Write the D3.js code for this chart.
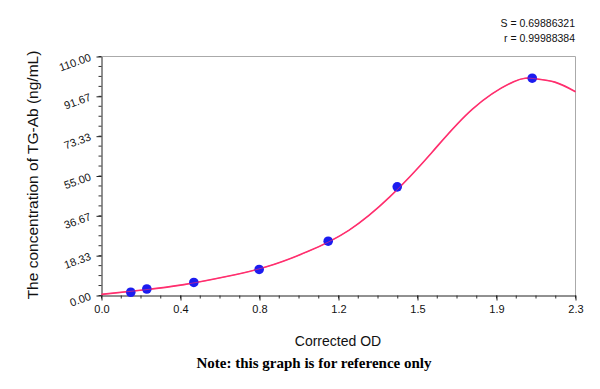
<!DOCTYPE html>
<html>
<head>
<meta charset="utf-8">
<script src="https://cdn.jsdelivr.net/npm/d3@7"></script>
<style>
  body { margin: 0; background: #fff; }
  svg { font-family: "Liberation Sans", Arial, sans-serif; }
</style>
</head>
<body>
<svg id="chart" width="600" height="389"></svg>
<script>
// standard points (corrected OD, concentration)
const odValues = [0.142, 0.22, 0.448, 0.765, 1.10, 1.435, 2.09];
const concValues = [1.5, 3, 6, 12, 25, 50, 100];

// fitted curve
const curveOd = [0, 0.2, 0.4, 0.6, 0.8, 1.0, 1.2, 1.4, 1.6, 1.8, 2.0, 2.1, 2.2, 2.3];
const curveConc = [0.5, 2.5, 5.0, 8.6, 13.2, 20.2, 30.0, 45.5, 65.5, 85.8, 98.4, 99.8, 98.2, 93.8];

const xTicks = [0, 2.3 / 6, 4.6 / 6, 1.15, 9.2 / 6, 11.5 / 6, 2.3];
const yTicks = [0, 18.33, 36.67, 55, 73.33, 91.67, 110];

const stats = ["S = 0.69886321", "r = 0.99988384"];

const plotLeft = 101.5, plotRight = 575.5, plotTop = 56.5, plotBottom = 295.5;

const svg = d3.select("#chart");

const x = d3.scaleLinear().domain([0, 2.3]).range([plotLeft, plotRight]);
const y = d3.scaleLinear().domain([0, 110]).range([plotBottom, plotTop]);

// frame (top and right in gray)
svg.append("path")
    .attr("d", `M${plotLeft},${plotTop}H${plotRight}V${plotBottom}`)
    .attr("fill", "none")
    .attr("stroke", "#aaa")
    .attr("stroke-width", 1);

// minor ticks
const xMinor = d3.range(0, 25).map(i => i * 2.3 / 24);
svg.append("g").selectAll("line")
    .data(xMinor)
    .enter().append("line")
    .attr("x1", d => x(d)).attr("x2", d => x(d))
    .attr("y1", plotBottom).attr("y2", plotBottom + 3)
    .attr("stroke", "#333");

const yMinor = d3.range(0, 25).map(i => i * 110 / 24);
svg.append("g").selectAll("line")
    .data(yMinor)
    .enter().append("line")
    .attr("y1", d => y(d)).attr("y2", d => y(d))
    .attr("x1", plotLeft - 3).attr("x2", plotLeft)
    .attr("stroke", "#333");

// x axis (1.15 should read 1.2)
const fmt1 = d3.format(".1f");
const xAxis = svg.append("g")
    .attr("transform", `translate(0,${plotBottom})`)
    .call(d3.axisBottom(x).tickValues(xTicks).tickSize(5).tickSizeOuter(0)
        .tickFormat(d => fmt1(d + 1e-9)));
xAxis.select(".domain").attr("stroke", "#222");
xAxis.selectAll(".tick line").attr("stroke", "#222");
xAxis.selectAll("text").attr("font-size", 11).attr("fill", "#111").attr("dy", "0.9em");

// y axis, labels tilted
const yAxis = svg.append("g")
    .attr("transform", `translate(${plotLeft},0)`)
    .call(d3.axisLeft(y).tickValues(yTicks).tickSize(5).tickSizeOuter(0)
        .tickFormat(d3.format(".2f")));
yAxis.select(".domain").attr("stroke", "#222");
yAxis.selectAll(".tick line").attr("stroke", "#222");
yAxis.selectAll("text")
    .attr("font-size", 11)
    .attr("fill", "#111")
    .attr("x", -11)
    .attr("dy", "0.32em")
    .attr("transform", "rotate(-20,-11,0)");

// fitted curve
const curveData = curveOd.map((d, i) => [d, curveConc[i]]);
const line = d3.line()
    .x(d => x(d[0]))
    .y(d => y(d[1]))
    .curve(d3.curveNatural);

svg.append("path")
    .datum(curveData)
    .attr("fill", "none")
    .attr("stroke", "#ff2f6e")
    .attr("stroke-width", 1.6)
    .attr("d", line);

// points
svg.append("g").selectAll("circle")
    .data(odValues.map((d, i) => [d, concValues[i]]))
    .enter().append("circle")
    .attr("cx", d => x(d[0]))
    .attr("cy", d => y(d[1]))
    .attr("r", 4.8)
    .attr("fill", "#1c1cf0");

// curve shows faintly over the points, as in the picture
svg.append("path")
    .datum(curveData)
    .attr("fill", "none")
    .attr("stroke", "#ff2f6e")
    .attr("stroke-width", 1)
    .attr("stroke-opacity", 0.6)
    .attr("d", line);

// titles
svg.append("text")
    .attr("transform", "translate(38,175) rotate(-90)")
    .attr("text-anchor", "middle")
    .attr("font-size", 15.5)
    .attr("fill", "#111")
    .text("The concentration of TG-Ab (ng/mL)");

svg.append("text")
    .attr("x", 338).attr("y", 346)
    .attr("text-anchor", "middle")
    .attr("font-size", 14)
    .attr("fill", "#111")
    .text("Corrected OD");

svg.append("text")
    .attr("x", 314).attr("y", 368)
    .attr("text-anchor", "middle")
    .attr("font-family", "'Liberation Serif', 'Times New Roman', serif")
    .attr("font-weight", "bold")
    .attr("font-size", 15)
    .attr("fill", "#000")
    .text("Note: this graph is for reference only");

svg.append("g").selectAll("text")
    .data(stats)
    .enter().append("text")
    .attr("x", 575)
    .attr("y", (d, i) => 27 + i * 15)
    .attr("text-anchor", "end")
    .attr("font-size", 10.5)
    .attr("fill", "#111")
    .text(d => d);
</script>
</body>
</html>
